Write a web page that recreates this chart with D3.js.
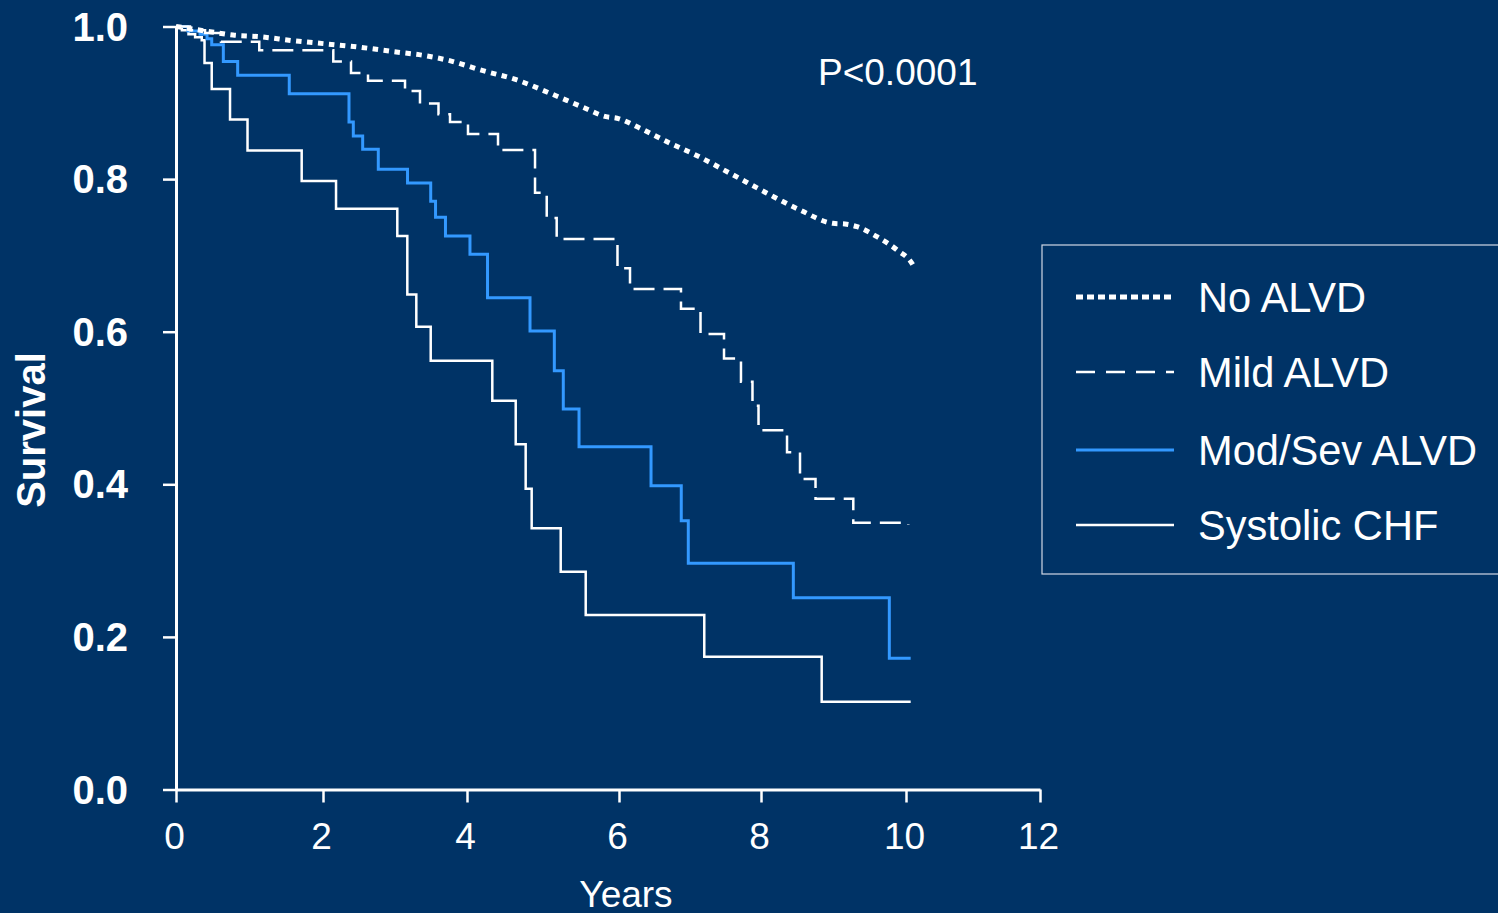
<!DOCTYPE html>
<html>
<head>
<meta charset="utf-8">
<script src="https://cdn.jsdelivr.net/npm/d3@7"></script>
<style>
    body { margin: 0; background: #003366; }
    text { font-family: Arial, "Liberation Sans", sans-serif; fill: #ffffff; }
</style>
</head>
<body>
<div id="chart"></div>
<script>

// * * * data * * *

// x ticks (years) and y ticks (survival)
let xTicks = [0, 2, 4, 6, 8, 10, 12];
let yTicks = [0, 0.2, 0.4, 0.6, 0.8, 1.0];

// No ALVD (smooth dotted curve)
let noAlvdYears = [0, 0.463, 0.776, 1.143, 1.592, 2.056, 2.514, 2.972, 3.444, 3.72, 4.211, 4.658, 5.092, 5.526, 5.829, 5.974, 6.296, 6.718, 7.07, 7.606, 8.083, 8.538, 8.993, 9.159, 9.324, 9.6, 9.876, 10.104, 10.134];
let noAlvdSurv  = [1.0, 0.9932, 0.9888, 0.9866, 0.9814, 0.9771, 0.9728, 0.9671, 0.9614, 0.9561, 0.9421, 0.9299, 0.9125, 0.8942, 0.8819, 0.8798, 0.8667, 0.847, 0.832, 0.8055, 0.7815, 0.7595, 0.742, 0.7411, 0.7376, 0.7245, 0.7071, 0.6873, 0.6822];

// Mild ALVD (dashed steps)
let mildYears = [0, 0.19, 0.395, 0.612, 1.133, 2.143, 2.389, 2.625, 3.139, 3.347, 3.604, 3.764, 4.013, 4.408, 4.895, 5.049, 5.18, 5.98, 6.155, 6.873, 7.148, 7.479, 7.718, 7.88, 7.965, 8.359, 8.538, 8.752, 9.273, 10.034];
let mildSurv  = [1.0, 0.995, 0.9915, 0.98, 0.969, 0.954, 0.939, 0.929, 0.9155, 0.899, 0.885, 0.875, 0.859, 0.838, 0.782, 0.749, 0.7215, 0.683, 0.656, 0.63, 0.597, 0.565, 0.5345, 0.503, 0.471, 0.442, 0.407, 0.381, 0.3497, 0.347];

// Mod/Sev ALVD (blue steps)
let modSevYears = [0, 0.163, 0.327, 0.422, 0.486, 0.644, 0.839, 1.541, 2.361, 2.421, 2.551, 2.768, 3.174, 3.496, 3.563, 3.701, 4.039, 4.27, 4.829, 5.149, 5.267, 5.474, 6.451, 6.877, 6.976, 8.446, 9.77, 10.07];
let modSevSurv  = [1.0, 0.994, 0.99, 0.984, 0.976, 0.954, 0.936, 0.912, 0.875, 0.8565, 0.839, 0.813, 0.795, 0.771, 0.75, 0.7254, 0.7014, 0.6446, 0.6009, 0.5489, 0.4987, 0.4493, 0.3982, 0.3523, 0.2965, 0.2514, 0.172, 0.172];

// Systolic CHF (white steps)
let chfYears = [0, 0.08, 0.17, 0.26, 0.35, 0.388, 0.486, 0.735, 0.973, 1.71, 2.181, 3.032, 3.171, 3.296, 3.496, 4.333, 4.641, 4.772, 4.851, 5.233, 5.562, 7.201, 8.837, 10.07];
let chfSurv  = [1.0, 0.995, 0.99, 0.986, 0.982, 0.952, 0.918, 0.878, 0.8375, 0.7975, 0.761, 0.7254, 0.6488, 0.6066, 0.562, 0.5096, 0.4524, 0.3942, 0.3423, 0.2854, 0.2287, 0.174, 0.115, 0.115];

let legendLabels = ["No ALVD", "Mild ALVD", "Mod/Sev ALVD", "Systolic CHF"];
let pLabel = "P<0.0001";

// line styles per series
let styles = [
    {color: "#ffffff", width: 5, dash: "5.5,5.5", legendDash: "7,4"},
    {color: "#ffffff", width: 2.5, dash: "21,9", legendDash: "19,11"},
    {color: "#3399ff", width: 3, dash: null, legendDash: null},
    {color: "#ffffff", width: 2.5, dash: null, legendDash: null}
];

let width = 1498, height = 913;

let svg = d3.select("#chart").append("svg")
    .attr("width", width)
    .attr("height", height)
    .style("background", "#003366");

// x axis of the slide is slightly uneven, so a piecewise scale
let x = d3.scaleLinear()
    .domain(xTicks)
    .range([176, 323, 467, 619, 761, 906, 1040]);

let y = d3.scaleLinear()
    .domain([0, 1])
    .range([789.5, 26.5]);

// axes
let xAxis = svg.append("g")
    .attr("transform", `translate(0, ${y(0)})`)
    .call(d3.axisBottom(x).tickValues(xTicks).tickSize(13).tickSizeOuter(0).tickFormat(d3.format("d")));

let yAxis = svg.append("g")
    .attr("transform", `translate(${x(0)}, 0)`)
    .call(d3.axisLeft(y).tickValues(yTicks).tickSize(13).tickSizeOuter(0).tickFormat(d3.format(".1f")));

[xAxis, yAxis].forEach(a => {
    a.select(".domain").attr("stroke", "#ffffff").attr("stroke-width", 3);
    a.selectAll(".tick line").attr("stroke", "#ffffff").attr("stroke-width", 2.5);
});

xAxis.selectAll(".tick text")
    .attr("x", -2)
    .attr("y", 59.5)
    .attr("dy", 0)
    .style("font-size", "37px")
    .style("fill", "#ffffff");

yAxis.selectAll(".tick text")
    .attr("x", -48)
    .attr("dy", 13.5)
    .style("font-size", "40px")
    .style("font-weight", "bold")
    .style("fill", "#ffffff");

// axis titles
svg.append("text")
    .attr("x", 626)
    .attr("y", 907)
    .attr("text-anchor", "middle")
    .style("font-size", "37px")
    .text("Years");

svg.append("text")
    .attr("transform", `translate(45, 430) rotate(-90)`)
    .attr("text-anchor", "middle")
    .style("font-size", "40px")
    .style("font-weight", "bold")
    .text("Survival");

svg.append("text")
    .attr("x", 818)
    .attr("y", 85)
    .style("font-size", "37px")
    .text(pLabel);

// curves
let series = [
    {years: noAlvdYears, surv: noAlvdSurv, curve: d3.curveMonotoneX},
    {years: mildYears, surv: mildSurv, curve: d3.curveStepAfter},
    {years: modSevYears, surv: modSevSurv, curve: d3.curveStepAfter},
    {years: chfYears, surv: chfSurv, curve: d3.curveStepAfter}
];

// draw back to front: solid lines first, dotted last
[3, 2, 1, 0].forEach(i => {
    let s = series[i];
    let pts = s.years.map((t, j) => [t, s.surv[j]]);
    let line = d3.line()
        .x(d => x(d[0]))
        .y(d => y(d[1]))
        .curve(s.curve);
    svg.append("path")
        .datum(pts)
        .attr("d", line)
        .attr("fill", "none")
        .attr("stroke", styles[i].color)
        .attr("stroke-width", styles[i].width)
        .attr("stroke-dasharray", styles[i].dash);
});

// legend
let legend = svg.append("g");

legend.append("rect")
    .attr("x", 1042)
    .attr("y", 245)
    .attr("width", 500)
    .attr("height", 329)
    .attr("fill", "none")
    .attr("stroke", "#d0d8e4")
    .attr("stroke-width", 1.2);

let rowY = [297, 372, 450, 525];

legendLabels.forEach((label, i) => {
    legend.append("line")
        .attr("x1", 1076)
        .attr("x2", 1174)
        .attr("y1", rowY[i])
        .attr("y2", rowY[i])
        .attr("stroke", styles[i].color)
        .attr("stroke-width", styles[i].width)
        .attr("stroke-dasharray", styles[i].legendDash);

    legend.append("text")
        .attr("x", 1198)
        .attr("y", rowY[i] + 15)
        .style("font-size", "41.6px")
        .text(label);
});

</script>
</body>
</html>
